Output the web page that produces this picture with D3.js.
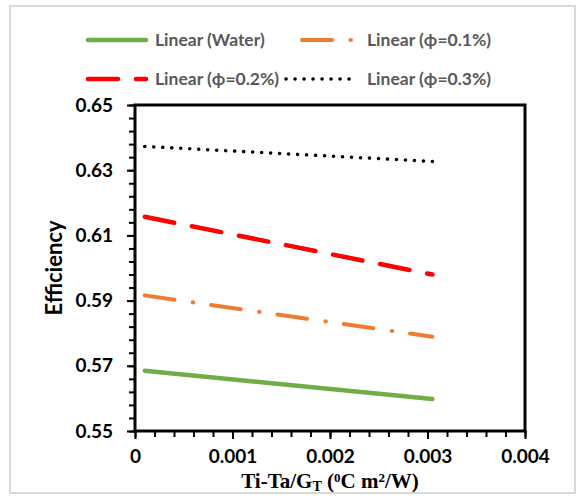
<!DOCTYPE html>
<html>
<head>
<meta charset="utf-8">
<script src="https://cdn.jsdelivr.net/npm/d3@7"></script>
<style>
  html, body { margin: 0; padding: 0; background: #fff; }
  svg { display: block; }
</style>
</head>
<body>
<svg id="chart" width="580" height="498"></svg>
<script>
// Trendline endpoints (x in °C m²/W, y = efficiency)
const xEnds = [0.0001, 0.00305];
const waterEff = [0.5685, 0.5598];
const phi01Eff = [0.5916, 0.5789];
const phi02Eff = [0.6157, 0.5980];
const phi03Eff = [0.6373, 0.6327];

const seriesNames = ["Linear (Water)", "Linear (\u03D5=0.1%)", "Linear (\u03D5=0.2%)", "Linear (\u03D5=0.3%)"];
const xTickValues = [0, 0.001, 0.002, 0.003, 0.004];
const xTickLabels = ["0", "0.001", "0.002", "0.003", "0.004"];
const yTickValues = [0.55, 0.57, 0.59, 0.61, 0.63, 0.65];
const yTickLabels = ["0.55", "0.57", "0.59", "0.61", "0.63", "0.65"];

const series = [
  { name: seriesNames[0], vals: waterEff, color: "#70AD47", width: 4.5, dash: null },
  { name: seriesNames[1], vals: phi01Eff, color: "#ED7D31", width: 4, dash: "30,18.5,0.5,18" },
  { name: seriesNames[2], vals: phi02Eff, color: "#FF0000", width: 4.5, dash: "30,18" },
  { name: seriesNames[3], vals: phi03Eff, color: "#000000", width: 3.5, dash: "0.1,8.9" }
];

const svg = d3.select("#chart");
const plot = { left: 135, right: 525, top: 105, bottom: 431 };

// outer chart frame
svg.append("rect")
  .attr("x", 10).attr("y", 6).attr("width", 565).attr("height", 487)
  .attr("fill", "#fff").attr("stroke", "#d9d9d9").attr("stroke-width", 2);

const x = d3.scaleLinear().domain([0, 0.004]).range([plot.left, plot.right]);
const y = d3.scaleLinear().domain([0.55, 0.65]).range([plot.bottom, plot.top]);

const sansFont = "Lato, 'Open Sans', sans-serif";

// minor + major tick marks
const xMinor = d3.range(0, 21).map(i => i * 0.0002);
const yMinor = d3.range(0, 26).map(i => 0.55 + i * 0.004);

const xAxisG = svg.append("g").attr("transform", `translate(0,${plot.bottom})`)
  .call(d3.axisBottom(x).tickValues(xMinor).tickSize(6).tickFormat(""));
const yAxisG = svg.append("g").attr("transform", `translate(${plot.left},0)`)
  .call(d3.axisLeft(y).tickValues(yMinor).tickSize(6).tickFormat(""));
[xAxisG, yAxisG].forEach(g => {
  g.select(".domain").remove();
  g.selectAll(".tick line").attr("stroke", "#000").attr("stroke-width", 2);
});

// major tick labels
const xLab = svg.append("g").attr("transform", `translate(0,${plot.bottom})`)
  .call(d3.axisBottom(x).tickValues(xTickValues).tickSize(8)
    .tickFormat((d, i) => xTickLabels[i]).tickPadding(11));
const yLab = svg.append("g").attr("transform", `translate(${plot.left},0)`)
  .call(d3.axisLeft(y).tickValues(yTickValues).tickSize(8)
    .tickFormat((d, i) => yTickLabels[i]).tickPadding(14));
[xLab, yLab].forEach(g => {
  g.select(".domain").remove();
  g.selectAll(".tick line").attr("stroke", "#000").attr("stroke-width", 2);
  g.selectAll(".tick text")
    .attr("font-family", sansFont).attr("font-weight", 700)
    .attr("font-size", 19).attr("fill", "#000");
});

// trendlines
const line = d3.line().x(d => x(d[0])).y(d => y(d[1]));
svg.append("clipPath").attr("id", "plotClip")
  .append("rect").attr("x", plot.left).attr("y", plot.top)
  .attr("width", plot.right - plot.left).attr("height", plot.bottom - plot.top);

series.forEach(s => {
  svg.append("path")
    .datum(xEnds.map((xv, i) => [xv, s.vals[i]]))
    .attr("d", line)
    .attr("fill", "none")
    .attr("stroke", s.color)
    .attr("stroke-width", s.width)
    .attr("stroke-linecap", "round")
    .attr("stroke-dasharray", s.dash)
    .attr("clip-path", "url(#plotClip)");
});

// plot area border
svg.append("rect")
  .attr("x", plot.left).attr("y", plot.top)
  .attr("width", plot.right - plot.left).attr("height", plot.bottom - plot.top)
  .attr("fill", "none").attr("stroke", "#000").attr("stroke-width", 3);

// y axis title
svg.append("text")
  .attr("transform", "translate(62,268) rotate(-90)")
  .attr("text-anchor", "middle")
  .attr("font-family", sansFont).attr("font-weight", 700).attr("font-size", 22)
  .attr("fill", "#000")
  .text("Efficiency");

// x axis title with sub/superscripts
const xt = svg.append("text")
  .attr("x", 330).attr("y", 488)
  .attr("text-anchor", "middle")
  .attr("font-family", "'Liberation Serif', 'Times New Roman', serif")
  .attr("font-weight", 700).attr("font-size", 21).attr("fill", "#000");
xt.append("tspan").text("Ti-Ta/G");
xt.append("tspan").attr("font-size", 14).attr("dy", 3).text("T");
xt.append("tspan").attr("dy", -3).text(" (");
xt.append("tspan").attr("font-size", 13).attr("dy", -6).text("0");
xt.append("tspan").attr("dy", 6).text("C m");
xt.append("tspan").attr("font-size", 13).attr("dy", -6).text("2");
xt.append("tspan").attr("dy", 6).text("/W)");

// legend
const legendItems = [
  { s: series[0], x1: 88, x2: 146, ty: 40, tx: 155 },
  { s: series[1], x1: 302, x2: 352, ty: 40, tx: 367 },
  { s: series[2], x1: 88, x2: 146, ty: 79, tx: 155 },
  { s: series[3], x1: 286, x2: 357, ty: 79, tx: 367 }
];
const lg = svg.append("g");
legendItems.forEach(it => {
  lg.append("line")
    .attr("x1", it.x1).attr("x2", it.x2).attr("y1", it.ty).attr("y2", it.ty)
    .attr("stroke", it.s.color).attr("stroke-width", it.s.width)
    .attr("stroke-linecap", "round")
    .attr("stroke-dasharray", it.s.dash);
  lg.append("text")
    .attr("x", it.tx).attr("y", it.ty).attr("dy", "0.35em")
    .attr("font-family", sansFont).attr("font-weight", 700).attr("font-size", 17.5)
    .attr("fill", "#595959")
    .text(it.s.name);
});
</script>
</body>
</html>
